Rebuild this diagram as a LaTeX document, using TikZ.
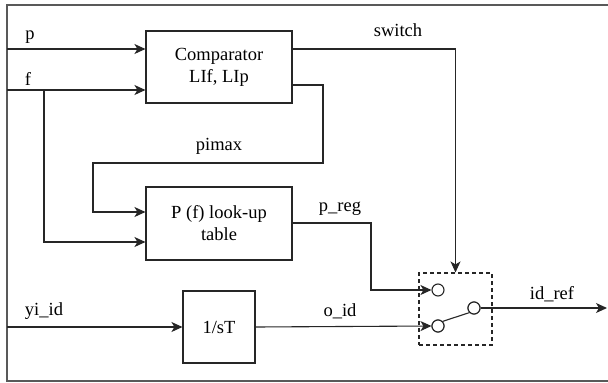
\documentclass[tikz,border=0pt]{standalone}
\usepackage{fontspec}
\setmainfont{Liberation Serif}
\usetikzlibrary{arrows.meta,calc}
\begin{document}
\begin{tikzpicture}[x=1pt,y=-1pt,
  font=\fontsize{18.5}{21}\selectfont,
  wire/.style={line width=1.1pt,draw=black!85},
  arr/.style={wire,-{Stealth[length=11pt,width=10pt,inset=3pt]}},
  blk/.style={draw=black!85,line width=1.1pt,rectangle,inner sep=0pt,align=center},
  term/.style={circle,draw=black!85,line width=1.1pt,minimum size=12pt,inner sep=0pt,fill=white},
  lbl/.style={inner sep=0pt}]
\useasboundingbox (0,0) rectangle (608,383);
\draw[line width=1.8pt,draw=black!65] (609,5) -- (7,5) -- (7,381) -- (609,381);
% blocks
\node[blk,minimum width=146pt,minimum height=72pt] (comp) at (219,67) {Comparator\\[1pt]LIf, LIp};
\node[blk,minimum width=146pt,minimum height=73pt] (ptab) at (219,223.5) {P (f) look-up\\[1pt]table};
\node[blk,minimum width=72pt,minimum height=72pt] (integ) at (219,327) {1/sT};
\node[draw=black!85,line width=1.1pt,dash pattern=on 4pt off 3pt,minimum width=73pt,minimum height=72pt,inner sep=0pt] (swbox) at (455.5,309) {};
\node[term] (c1) at (438,290) {};
\node[term] (c2) at (438,326) {};
\node[term] (c3) at (474,308) {};
% coordinates
\coordinate (pin) at (7,49);
\coordinate (fin) at (7,90);
\coordinate (fb) at (44,90);
\coordinate (yin) at (7,327);
\coordinate (pm1) at (323,85);
\coordinate (pm2) at (323,163);
\coordinate (pm3) at (93,163);
\coordinate (preg) at (371,223);
\coordinate (outend) at (607,308);
% connectors
\draw[arr] (pin) -- (pin -| comp.west);
\draw[arr] (fin) -- (fin -| comp.west);
\draw[arr] (fb) |- ($(ptab.west)+(0,18.5)$);
\draw[arr] ($(comp.east)+(0,18)$) -- (pm1) -- (pm2) -- (pm3) |- ($(ptab.west)+(0,-11.5)$);
\draw[arr] ($(comp.east)+(0,-18)$) -| (swbox.north);
\draw[arr] (ptab.east |- preg) -- (preg) |- (c1.west);
\draw[arr] (yin) -- (integ.west);
\draw[arr] (integ.east) -- (c2.west);
\draw[wire] (c2.north east) -- (c3.south west);
\draw[arr] (c3.east) -- (outend);
\node[term] at (c2) {};
\node[term] at (c3) {};
% labels
\node[lbl] at (30,37) {p};
\node[lbl] at (28,79) {f};
\node[lbl] at (398,30) {switch};
\node[lbl] at (219,146) {pimax};
\node[lbl] at (340,209) {p\_reg};
\node[lbl] at (44,311) {yi\_id};
\node[lbl] at (340,311) {o\_id};
\node[lbl] at (552,294) {id\_ref};
\end{tikzpicture}
\end{document}
